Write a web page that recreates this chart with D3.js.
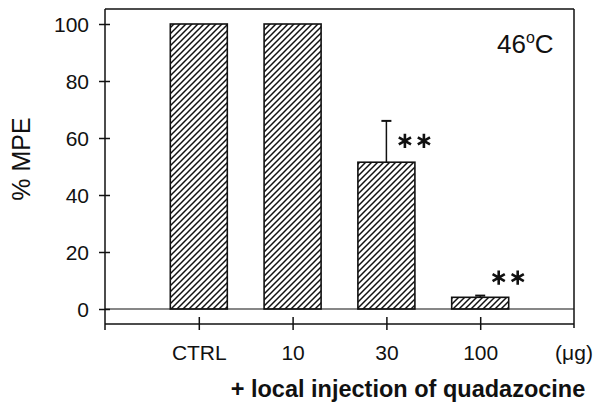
<!DOCTYPE html>
<html><head><meta charset="utf-8">
<script src="https://cdn.jsdelivr.net/npm/d3@7"></script>
<style>body{margin:0;background:#fff}svg{display:block}text{font-family:"Liberation Sans",Arial,sans-serif;fill:#111}</style>
</head><body><svg id="c" width="604" height="413"></svg>
<script>
const categories = ["CTRL", "10", "30", "100"];
const values = [100, 100, 51.5, 4.1];
const errors = [0, 0, 14.5, 0.6];
const significance = ["", "", "**", "**"];
const sigLevel = [null, null, 59, 11];
const yTicks = [0, 20, 40, 60, 80, 100];

const svg = d3.select("#c");
const L = 105, R = 574, T = 9, B = 309, AX = 324;
const x = d3.scalePoint().domain(categories).range([L, R]).padding(1);
const y = d3.scaleLinear().domain([0, 100]).range([B, B - 285]);
const bw = 57;

const defs = svg.append("defs");
const pat = defs.append("pattern").attr("id", "hatch").attr("patternUnits", "userSpaceOnUse")
  .attr("width", 6).attr("height", 6);
pat.append("path").attr("d", "M-1,1 L1,-1 M0,6 L6,0 M5,7 L7,5")
  .attr("stroke", "#111").attr("stroke-width", 1.5);

const ink = "#111";
const FF = '"Liberation Sans",Arial,sans-serif';
// frame
svg.append("line").attr("x1", L).attr("x2", R).attr("y1", T).attr("y2", T).attr("stroke", ink).attr("stroke-width", 1.5);
svg.append("line").attr("x1", R).attr("x2", R).attr("y1", T).attr("y2", AX + 4).attr("stroke", ink).attr("stroke-width", 1.5);

// y axis
const yAxis = d3.axisLeft(y).tickValues(yTicks).tickSize(0).tickPadding(0);
const gy = svg.append("g").attr("transform", `translate(${L},0)`).call(yAxis);
gy.select(".domain").remove();
gy.selectAll(".tick line").attr("x1", -6).attr("x2", 5).attr("stroke", ink).attr("stroke-width", 1.5);
gy.selectAll(".tick text").attr("x", -16).attr("dy", "0.36em").style("font-size", "21px")
  .style("font-family", FF).attr("fill", ink);
svg.append("line").attr("x1", L).attr("x2", L).attr("y1", T).attr("y2", AX + 6).attr("stroke", ink).attr("stroke-width", 1.5);

// zero line
svg.append("line").attr("x1", L).attr("x2", R).attr("y1", y(0)).attr("y2", y(0)).attr("stroke", ink).attr("stroke-width", 1.2);

// bottom category axis
const xAxis = d3.axisBottom(x).tickSize(0).tickPadding(0);
const gx = svg.append("g").attr("transform", `translate(0,${AX})`).call(xAxis);
gx.select(".domain").remove();
gx.selectAll(".tick line").attr("y1", -7).attr("y2", 6).attr("stroke", ink).attr("stroke-width", 1.5);
gx.selectAll(".tick text").attr("y", 36).attr("dy", 0).style("font-size", "21px")
  .style("font-family", FF).attr("fill", ink);
svg.append("line").attr("x1", L).attr("x2", R).attr("y1", AX).attr("y2", AX).attr("stroke", ink).attr("stroke-width", 1.5);
svg.append("text").attr("x", R).attr("y", AX + 36).attr("text-anchor", "middle").style("font-size", "21px").text("(μg)");

// bars
svg.selectAll("rect.bar").data(values).enter().append("rect").attr("class", "bar")
  .attr("x", (d, i) => x(categories[i]) - bw / 2).attr("width", bw)
  .attr("y", d => y(d)).attr("height", d => y(0) - y(d))
  .attr("fill", "url(#hatch)").attr("stroke", ink).attr("stroke-width", 1.6);

// error bars
values.forEach((v, i) => {
  if (!errors[i]) return;
  const cx = x(categories[i]);
  svg.append("line").attr("x1", cx).attr("x2", cx).attr("y1", y(v)).attr("y2", y(v + errors[i])).attr("stroke", ink).attr("stroke-width", 1.5);
  svg.append("line").attr("x1", cx - 5).attr("x2", cx + 5).attr("y1", y(v + errors[i])).attr("y2", y(v + errors[i])).attr("stroke", ink).attr("stroke-width", 2);
});

// significance stars
const star = d3.symbol().type(d3.symbolAsterisk).size(140);
significance.forEach((s, i) => {
  if (!s) return;
  const cx = x(categories[i]);
  for (let k = 0; k < s.length; k++) {
    svg.append("path").attr("d", star())
      .attr("transform", `translate(${cx + 18.5 + k * 19},${y(sigLevel[i])})`)
      .attr("fill", "none").attr("stroke", ink).attr("stroke-width", 2.6);
  }
});

// temperature label
const t = svg.append("text").attr("x", 497).attr("y", 53).style("font-size", "26px");
t.append("tspan").text("46");
t.append("tspan").attr("dy", -10).style("font-size", "16px").text("o");
t.append("tspan").attr("dy", 10).text("C");

// axis titles
svg.append("text").attr("transform", "translate(30,159) rotate(-90)").attr("text-anchor", "middle")
  .style("font-size", "25px").text("% MPE");
svg.append("text").attr("x", 408).attr("y", 397).attr("text-anchor", "middle")
  .style("font-size", "23.5px").style("font-weight", "bold").text("+ local injection of quadazocine");
</script></body></html>
